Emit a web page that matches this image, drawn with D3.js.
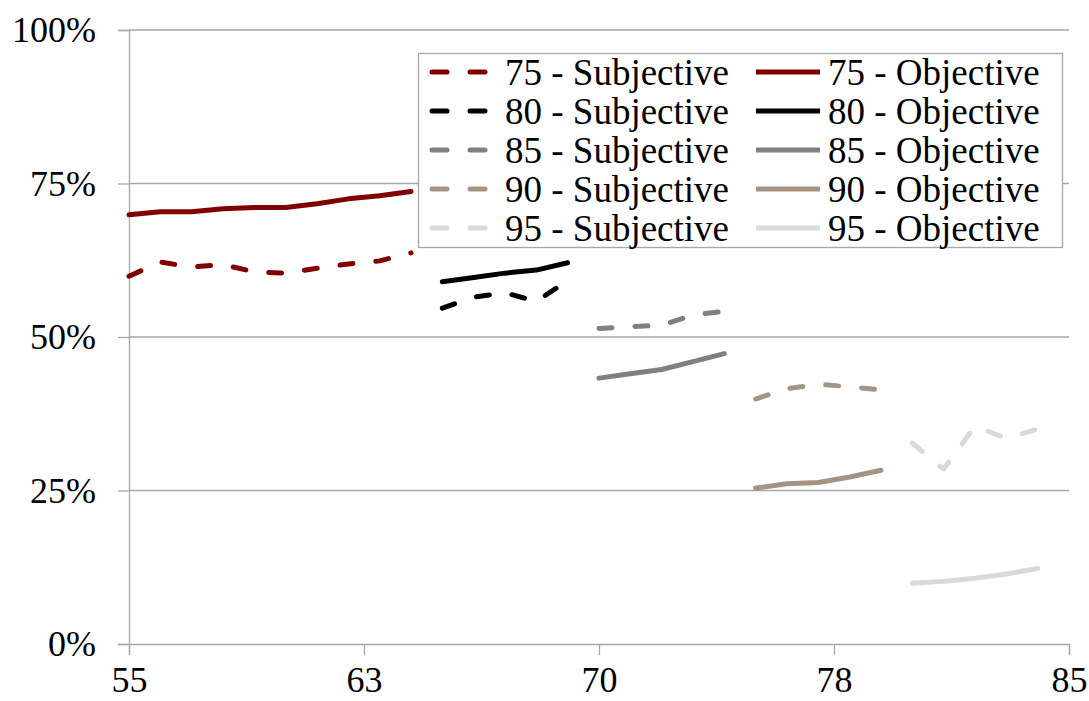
<!DOCTYPE html>
<html>
<head>
<meta charset="utf-8">
<script src="https://cdn.jsdelivr.net/npm/d3@7"></script>
<style>
  html, body { margin: 0; padding: 0; background: #fff; }
  svg { display: block; }
</style>
</head>
<body>
<svg id="chart" width="1089" height="701"></svg>
<script>
// ---- data ----
const ages75 = [55, 56, 57, 58, 59, 60, 61, 62, 63, 64];
const subj75 = [59.9, 62.2, 61.4, 61.8, 60.6, 60.4, 61.2, 61.9, 62.4, 63.7];
const obj75  = [69.9, 70.4, 70.4, 70.9, 71.1, 71.1, 71.7, 72.5, 73.0, 73.7];

const ages80 = [65, 66, 67, 68, 69];
const subj80 = [54.7, 56.5, 57.2, 55.8, 59.2];
const obj80  = [59.0, 59.7, 60.4, 60.9, 62.1];

const ages85 = [70, 71, 72, 73, 74];
const subj85 = [51.4, 51.7, 51.9, 53.6, 54.2];
const obj85  = [43.3, 44.0, 44.7, 46.0, 47.3];

const ages90 = [75, 76, 77, 78, 79];
const subj90 = [39.9, 41.6, 42.3, 41.9, 41.4];
const obj90  = [25.4, 26.1, 26.3, 27.2, 28.3];

const ages95 = [80, 81, 82, 83, 84];
const subj95 = [32.7, 28.5, 35.5, 33.5, 35.0];
const obj95  = [9.9, 10.2, 10.7, 11.4, 12.3];

const groups = ["75", "80", "85", "90", "95"];
const groupColors = ["#800000", "#000000", "#808080", "#a69483", "#d9d9d9"];
const xTickValues = [55, 62.5, 70, 77.5, 85];
const xTickLabels = ["55", "63", "70", "78", "85"];
const yTickValues = [0, 25, 50, 75, 100];
const yTickLabels = ["0%", "25%", "50%", "75%", "100%"];

const series = [
  { group: "75", ages: ages75, subj: subj75, obj: obj75 },
  { group: "80", ages: ages80, subj: subj80, obj: obj80 },
  { group: "85", ages: ages85, subj: subj85, obj: obj85 },
  { group: "90", ages: ages90, subj: subj90, obj: obj90 },
  { group: "95", ages: ages95, subj: subj95, obj: obj95 }
];

// ---- layout ----
const FONT = '"Liberation Serif"';
const W = 1089, H = 701;
const margin = { top: 30, right: 20, bottom: 57, left: 129 };
const svg = d3.select("#chart");
const x = d3.scaleLinear().domain([55, 85]).range([margin.left, W - margin.right]);
const y = d3.scaleLinear().domain([0, 100]).range([H - margin.bottom, margin.top]);
const color = d3.scaleOrdinal().domain(groups).range(groupColors);
const gridColor = "#a6a6a6";

// gridlines
svg.append("g")
  .selectAll("line")
  .data(yTickValues.filter(d => d > 0))
  .join("line")
  .attr("x1", margin.left).attr("x2", W - margin.right)
  .attr("y1", d => y(d)).attr("y2", d => y(d))
  .attr("stroke", gridColor).attr("stroke-width", 1.3);

// y axis
const yAxis = svg.append("g")
  .attr("transform", `translate(${margin.left},0)`)
  .call(d3.axisLeft(y).tickValues(yTickValues)
    .tickFormat((d, i) => yTickLabels[i]).tickSize(11).tickPadding(22));
yAxis.select(".domain").attr("stroke", gridColor).attr("stroke-width", 1.3);
yAxis.selectAll(".tick line").attr("stroke", gridColor).attr("stroke-width", 1.3);
yAxis.selectAll(".tick text")
  .style("font-family", FONT).style("font-size", "36px").attr("fill", "#000");

// x axis
const xAxis = svg.append("g")
  .attr("transform", `translate(0,${H - margin.bottom})`)
  .call(d3.axisBottom(x).tickValues(xTickValues)
    .tickFormat((d, i) => xTickLabels[i]).tickSize(11).tickPadding(11));
xAxis.select(".domain").attr("stroke", gridColor).attr("stroke-width", 1.3);
xAxis.selectAll(".tick line").attr("stroke", gridColor).attr("stroke-width", 1.3);
xAxis.selectAll(".tick text")
  .style("font-family", FONT).style("font-size", "36px").attr("fill", "#000");

// lines
const line = d3.line().x(d => x(d[0])).y(d => y(d[1]));
const dash = "13,23";
const plot = svg.append("g");
series.forEach(s => {
  plot.append("path")
    .datum(s.ages.map((a, i) => [a, s.subj[i]]))
    .attr("d", line)
    .attr("fill", "none")
    .attr("stroke", color(s.group))
    .attr("stroke-width", 5)
    .attr("stroke-linecap", "round")
    .attr("stroke-linejoin", "round")
    .attr("stroke-dasharray", dash);
  plot.append("path")
    .datum(s.ages.map((a, i) => [a, s.obj[i]]))
    .attr("d", line)
    .attr("fill", "none")
    .attr("stroke", color(s.group))
    .attr("stroke-width", 5)
    .attr("stroke-linecap", "round")
    .attr("stroke-linejoin", "round");
});

// legend
const lg = svg.append("g");
lg.append("rect")
  .attr("x", 418.5).attr("y", 53.5).attr("width", 644).attr("height", 194)
  .attr("fill", "#fff").attr("stroke", gridColor).attr("stroke-width", 1.3);
groups.forEach((g, i) => {
  const cy = 72 + i * 39;
  lg.append("line")
    .attr("x1", 432).attr("x2", 488).attr("y1", cy).attr("y2", cy)
    .attr("stroke", color(g)).attr("stroke-width", 5)
    .attr("stroke-linecap", "round").attr("stroke-dasharray", "15,23");
  lg.append("text")
    .attr("x", 505).attr("y", cy).attr("dy", "0.35em")
    .style("font-family", FONT).style("font-size", "37px").attr("fill", "#000")
    .text(`${g} - Subjective`);
  lg.append("line")
    .attr("x1", 756).attr("x2", 820).attr("y1", cy).attr("y2", cy)
    .attr("stroke", color(g)).attr("stroke-width", 5);
  lg.append("text")
    .attr("x", 828).attr("y", cy).attr("dy", "0.35em")
    .style("font-family", FONT).style("font-size", "37px").attr("fill", "#000")
    .text(`${g} - Objective`);
});
</script>
</body>
</html>
